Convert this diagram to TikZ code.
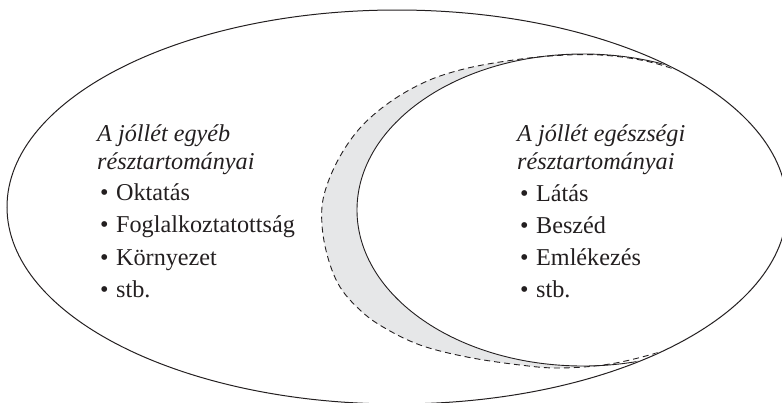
\documentclass[tikz,border=0pt]{standalone}
\usepackage{fontspec}
\setmainfont{Liberation Serif}
\definecolor{ink}{HTML}{231F20}
\definecolor{band}{HTML}{E6E7E8}
\tikzset{
  lbl/.style={anchor=base west, inner sep=0pt, text=ink, font=\fontsize{24.2}{28}\selectfont},
  hd/.style={lbl, font=\fontsize{24.2}{28}\selectfont\itshape},
  edge/.style={draw=ink, line width=1pt},
}
\begin{document}
\begin{tikzpicture}[x=1pt,y=-1pt]
\useasboundingbox (0,0) rectangle (782,402);
\clip (0,0) rectangle (782,402);
\begin{scope}
  \clip (397,207) ellipse [x radius=389pt, y radius=196pt];
  \fill[band] plot[smooth, tension=0.6] coordinates {(700,78) (650,62) (600,55) (550,56) (500,62) (460,70) (425,82) (390,102) (360,128) (338,160) (324,195) (322,225) (328,258) (340,287) (360,310) (383,327) (420,345) (467,357) (520,365) (560,368) (610,364) (660,352) (700,338)} -- (800,338) -- (800,78) -- cycle;
  \fill[white] (583,210) ellipse [x radius=226pt, y radius=156pt];
  \draw[edge, line width=0.9pt] (583,210) ellipse [x radius=226pt, y radius=156pt];
  \draw[edge, dash pattern=on 6pt off 4pt, line width=0.9pt] plot[smooth, tension=0.6] coordinates {(700,78) (650,62) (600,55) (550,56) (500,62) (460,70) (425,82) (390,102) (360,128) (338,160) (324,195) (322,225) (328,258) (340,287) (360,310) (383,327) (420,345) (467,357) (520,365) (560,368) (610,364) (660,352) (700,338)};
\end{scope}
\draw[edge] (397,207) ellipse [x radius=390pt, y radius=197pt];

\node[hd] (l1) at (97,141) {A jóllét egyéb};
\node[hd] (l2) at (97,169) {résztartományai};
\node[lbl] (l3) at (100,200) {•\hspace{7.5pt}Oktatás};
\node[lbl] (l4) at (100,232) {•\hspace{7.5pt}Foglalkoztatottság};
\node[lbl] (l5) at (100,265) {•\hspace{7.5pt}Környezet};
\node[lbl] (l6) at (100,297) {•\hspace{7.5pt}stb.};

\node[hd] (r1) at (517,141) {A jóllét egészségi};
\node[hd] (r2) at (517,169) {résztartományai};
\node[lbl] (r3) at (520,201) {•\hspace{7.5pt}Látás};
\node[lbl] (r4) at (520,233) {•\hspace{7.5pt}Beszéd};
\node[lbl] (r5) at (520,265) {•\hspace{7.5pt}Emlékezés};
\node[lbl] (r6) at (520,297) {•\hspace{7.5pt}stb.};
\end{tikzpicture}
\end{document}
